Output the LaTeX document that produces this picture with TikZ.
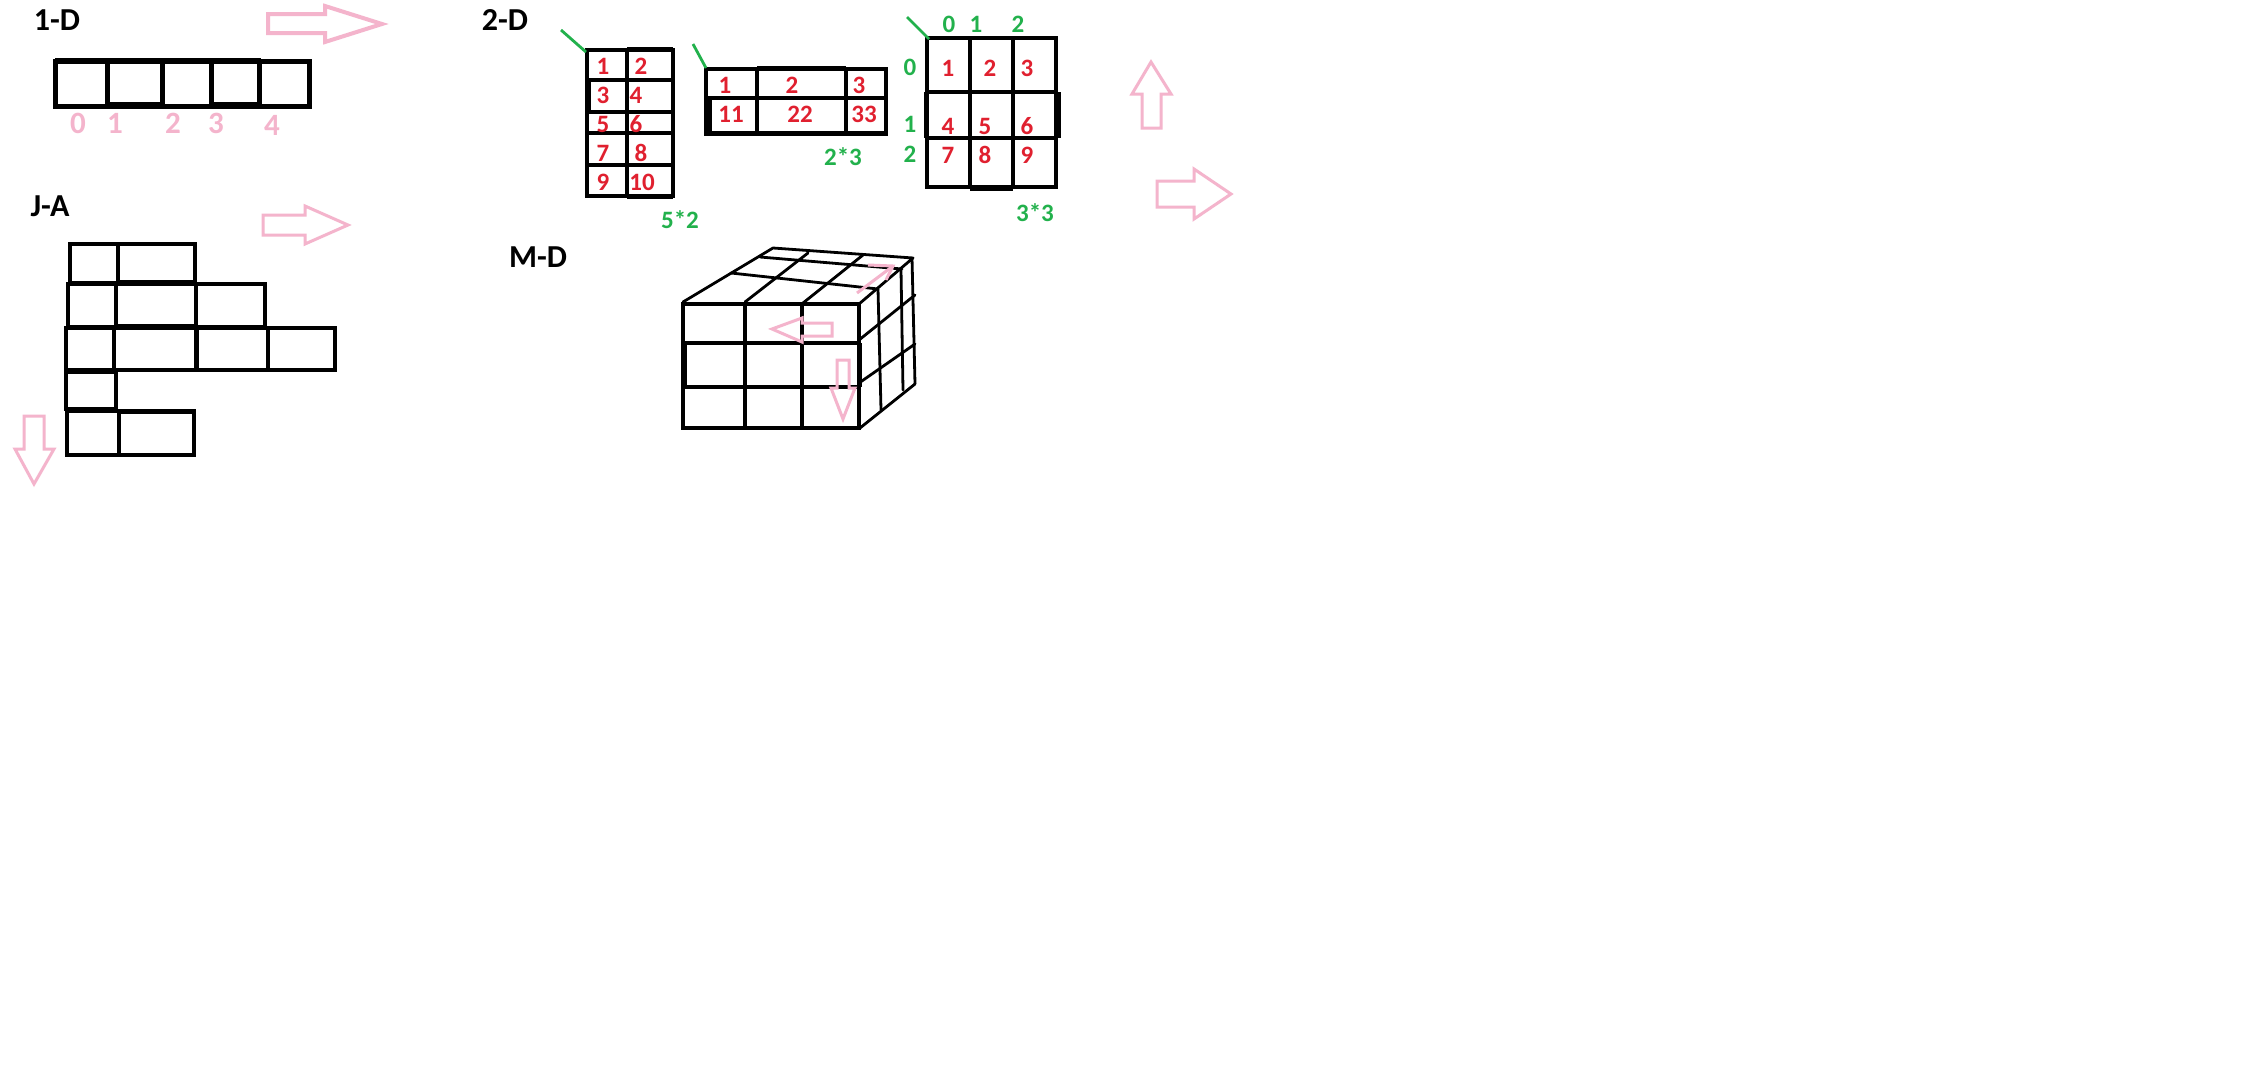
\documentclass[tikz,border=0pt]{standalone}
\usepackage{fontspec}
\setmainfont{Carlito}
\definecolor{rose}{HTML}{F4B4CC}
\definecolor{rd}{HTML}{E0202F}
\definecolor{grn}{HTML}{22B14C}
\tikzset{
 x=1pt,y=-1pt,
 title/.style={inner sep=0pt,font=\fontsize{32}{32}\selectfont\bfseries,text=black},
 idx/.style={inner sep=0pt,font=\fontsize{31}{31}\selectfont\bfseries,text=rose},
 val/.style={inner sep=0pt,font=\fontsize{25}{25}\selectfont\bfseries,text=rd},
 dim/.style={inner sep=0pt,font=\fontsize{25}{25}\selectfont\bfseries,text=grn},
 cell/.style={draw=black,line width=3.4pt,line join=miter},
 heavy/.style={draw=black,line width=5pt},
 arrowshape/.style={draw=rose,line width=3pt,line join=miter,fill=none},
 tick/.style={draw=grn,line width=2.8pt},
 cube/.style={draw=black,line width=2.8pt,line cap=round,line join=round},
}
\begin{document}
\begin{tikzpicture}
\useasboundingbox (0,0) rectangle (2258,1090);
\fill[white] (0,0) rectangle (2258,1090);
% titles
\node[title] (t1) at (57,20) {1-D};
\node[title] (t2) at (505,20) {2-D};
\node[title] (t3) at (50,206) {J-A};
\node[title] (t4) at (538,257) {M-D};
% 1-D array
\draw[cell,line width=5pt] (55,61) rectangle (309,106);
\foreach \x in {107,162,211,259} \draw[cell,line width=5pt] (\x,61) -- (\x,106);
\draw[heavy] (107,104) -- (162,104);
\draw[heavy] (211,104) -- (259,104);
\draw[heavy] (55,60) -- (261,60);
\node[idx] (a0) at (78,123) {0};
\node[idx] (a1) at (115,123) {1};
\node[idx] (a2) at (173,123) {2};
\node[idx] (a3) at (216,123) {3};
\node[idx] (a4) at (272,125) {4};
% jagged
\draw[cell] (70,244) rectangle (195,283);
\draw[cell] (118,244) -- (118,283);
\draw[heavy] (118,282) -- (195,282);
\draw[cell] (68,284) rectangle (265,327);
\draw[cell] (116,284) -- (116,327);
\draw[cell] (196,284) -- (196,327);
\draw[heavy] (116,326) -- (196,326);
\draw[cell] (66,328) rectangle (335,370);
\draw[cell] (114,328) -- (114,370);
\draw[heavy] (196,328) -- (196,370);
\draw[cell] (268,328) -- (268,370);
\draw[cell] (66,371) rectangle (116,409);
\draw[heavy] (66,371) -- (116,371);
\draw[cell] (67,411) rectangle (194,455);
\draw[cell] (119,411) -- (119,455);
\draw[heavy] (119,411) -- (194,411);
% table 5*2
\draw[cell] (587,50) rectangle (673,196);
\draw[cell] (627,50) -- (627,196);
\foreach \y in {80,112,133,165} \draw[cell] (587,\y) -- (673,\y);
\draw[heavy] (627,49) -- (673,49);
\draw[heavy] (627,196) -- (673,196);
\draw[cell,line width=4.2pt] (589,80) -- (589,112);
\coordinate (ta) at (561,30); \coordinate (tb) at (586,52);
\draw[tick] (ta) -- (tb);
\node[val] (v1) at (603,66) {1};
\node[val] (v2) at (641,66) {2};
\node[val] (v3) at (603,95) {3};
\node[val] (v4) at (636,95) {4};
\node[val] (v5) at (603,124) {5};
\node[val] (v6) at (636,124) {6};
\node[val] (v7) at (603,153) {7};
\node[val] (v8) at (641,153) {8};
\node[val] (v9) at (603,182) {9};
\node[val] (v10) at (642,182) {10};
\node[dim] (d1) at (680,220) {5*2};
% table 2*3
\draw[cell] (706,69) rectangle (886,134);
\draw[cell] (706,98) -- (887,98);
\draw[cell] (757,69) -- (757,134);
\draw[cell] (846,69) -- (846,134);
\draw[heavy] (757,68) -- (846,68);
\draw[heavy] (706,133) -- (886,133);
\draw[heavy] (709,98) -- (709,134);
\coordinate (tc) at (693,44); \coordinate (td) at (706,68);
\draw[tick] (tc) -- (td);
\node[val] (w1) at (725,85) {1};
\node[val] (w2) at (792,85) {2};
\node[val] (w3) at (859,85) {3};
\node[val] (w4) at (731,114) {11};
\node[val] (w5) at (800,114) {22};
\node[val] (w6) at (864,114) {33};
\node[dim] (d2) at (843,157) {2*3};
% table 3*3
\draw[cell] (927,38) rectangle (1056,187);
\draw[cell] (970,38) -- (970,187);
\draw[cell] (1013,38) -- (1013,187);
\draw[cell] (925,92) -- (1058,92);
\draw[cell] (925,138) -- (1058,138);
\draw[heavy] (926,92) -- (926,138);
\draw[heavy] (1058,92) -- (1058,138);
\draw[heavy] (970,188) -- (1013,188);
\coordinate (te) at (907,17); \coordinate (tf) at (929,39);
\draw[tick] (te) -- (tf);
\node[dim] (g1) at (949,24) {0};
\node[dim] (g2) at (976,24) {1};
\node[dim] (g3) at (1018,24) {2};
\node[dim] (g4) at (910,67) {0};
\node[dim] (g5) at (910,124) {1};
\node[dim] (g6) at (910,154) {2};
\node[val] (x1) at (948,68) {1};
\node[val] (x2) at (990,68) {2};
\node[val] (x3) at (1027,68) {3};
\node[val] (x4) at (948,126) {4};
\node[val] (x5) at (985,126) {5};
\node[val] (x6) at (1027,126) {6};
\node[val] (x7) at (948,155) {7};
\node[val] (x8) at (985,155) {8};
\node[val] (x9) at (1027,155) {9};
\node[dim] (d3) at (1035,213) {3*3};
% cube
\draw[cell] (683,304) rectangle (859,428);
\draw[cell] (745,304) -- (745,428);
\draw[cell] (802,304) -- (802,428);
\draw[cell] (683,343) -- (859,343);
\draw[cell] (683,387) -- (859,387);
\draw[heavy] (684,343) -- (684,387);
\draw[heavy] (859,343) -- (859,387);
\draw[cube] (683,302) -- (773,248) -- (913,258) -- (859,304);
\draw[cube] (745,302) -- (808,253);
\draw[cube] (803,303) -- (863,255);
\draw[cube] (760,257) -- (902,269);
\draw[cube] (731,273) -- (878,289);
\draw[cube] (878,289) -- (881,410);
\draw[cube] (901,270) -- (903,390);
\draw[cube] (912,258) -- (915,384);
\draw[cube] (859,340) -- (915,295);
\draw[cube] (859,383) -- (915,344);
\draw[cube] (860,428) -- (915,384);
% pink arrows
\draw[arrowshape,line width=4pt] (268,14) -- (325,14) -- (325,6) -- (382,24) -- (325,42) -- (325,33) -- (268,33) -- cycle;
\draw[arrowshape] (263,215) -- (305,215) -- (305,206) -- (348,225) -- (305,244) -- (305,235) -- (263,235) -- cycle;
\draw[arrowshape] (24,416) -- (44,416) -- (44,449) -- (54,449) -- (34,484) -- (15,449) -- (24,449) -- cycle;
\draw[arrowshape] (1142,128) -- (1161,128) -- (1161,94) -- (1171,94) -- (1151,62) -- (1132,94) -- (1142,94) -- cycle;
\draw[arrowshape] (1157,181) -- (1194,181) -- (1194,169) -- (1231,194) -- (1194,219) -- (1194,207) -- (1157,207) -- cycle;
\draw[arrowshape] (832,323) -- (802,323) -- (802,318) -- (772,329) -- (802,342) -- (802,336) -- (832,336) -- cycle;
\draw[arrowshape] (837,360) -- (849,360) -- (849,388) -- (855,388) -- (843,419) -- (831,388) -- (837,388) -- cycle;
\draw[arrowshape] (857,293) -- (893,266);
\draw[arrowshape] (868,265) -- (893,266) -- (886,280);
\end{tikzpicture}
\end{document}
